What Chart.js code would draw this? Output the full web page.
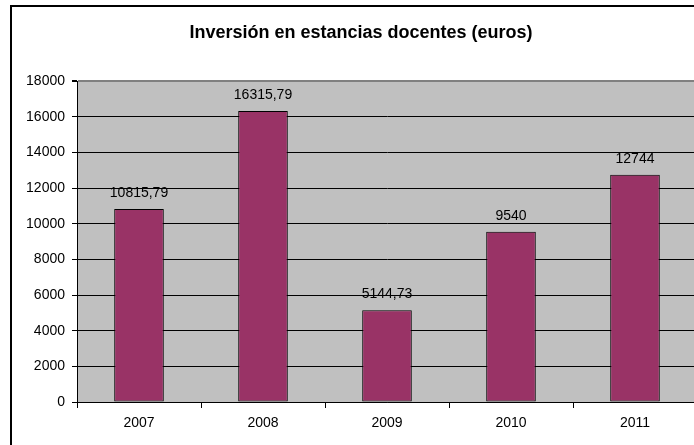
<!DOCTYPE html>
<html>
<head>
<meta charset="utf-8">
<script src="https://cdn.jsdelivr.net/npm/chart.js@4"></script>
<style>
html,body{margin:0;padding:0;background:#fff;overflow:hidden;width:694px;height:445px;}
#frame{position:absolute;left:10px;top:5px;width:900px;height:900px;border-left:2px solid #000;border-top:2px solid #000;}
#wrap{position:absolute;left:0;top:0;width:720px;height:445px;}
</style>
</head>
<body>
<div id="frame"></div>
<div id="wrap"><canvas id="c" width="720" height="445"></canvas></div>
<script>
const categories = ['2007', '2008', '2009', '2010', '2011'];
const values = [10815.79, 16315.79, 5144.73, 9540, 12744];
const yMin = 0, yMax = 18000, yStep = 2000;
const titleText = 'Inversión en estancias docentes (euros)';

const fmt = v => String(v).replace('.', ',');
const FONT = '"Liberation Sans", Arial, sans-serif';

const plotBg = {
  id: 'plotBg',
  beforeDraw(chart) {
    const {ctx, chartArea: a} = chart;
    ctx.save();
    ctx.fillStyle = '#C0C0C0';
    ctx.fillRect(a.left, a.top, a.right - a.left, a.bottom - a.top);
    ctx.restore();
  }
};
const valueLabels = {
  id: 'valueLabels',
  afterDatasetsDraw(chart) {
    const {ctx} = chart;
    const meta = chart.getDatasetMeta(0);
    ctx.save();
    ctx.font = '14px ' + FONT;
    ctx.fillStyle = '#000';
    ctx.textAlign = 'center';
    ctx.textBaseline = 'middle';
    meta.data.forEach((bar, i) => {
      ctx.fillText(fmt(values[i]), bar.x, bar.y - 16);
    });
    ctx.restore();
  }
};

new Chart(document.getElementById('c'), {
  type: 'bar',
  data: {
    labels: categories,
    datasets: [{
      data: values,
      backgroundColor: '#993366',
      borderColor: '#000',
      borderWidth: 1,
      borderSkipped: false,
      categoryPercentage: 1,
      barPercentage: 0.4
    }]
  },
  options: {
    responsive: false,
    animation: false,
    devicePixelRatio: 1,
    layout: {padding: {left: 25, right: 23, top: 0, bottom: 0}},
    plugins: {
      legend: {display: false},
      tooltip: {enabled: false},
      title: {
        display: true,
        text: titleText,
        color: '#000',
        font: {family: FONT, size: 18, weight: 'bold', lineHeight: 1.2},
        padding: {top: 22, bottom: 37.4}
      }
    },
    scales: {
      x: {
        afterFit(s) { s.height = 43; },
        grid: {offset: true, drawOnChartArea: false, drawTicks: true, tickLength: 6, color: '#000'},
        border: {color: '#000', width: 1},
        ticks: {color: '#000', padding: 7, font: {family: FONT, size: 14}}
      },
      y: {
        min: yMin, max: yMax,
        afterFit(s) { s.width = 52; },
        grid: {
          color: c => (c.tick && c.tick.value === yMax) ? '#808080' : '#000',
          lineWidth: c => (c.tick && c.tick.value === yMax) ? 2 : 1,
          tickColor: '#000',
          tickLength: 5
        },
        border: {color: '#000', width: 1},
        ticks: {
          stepSize: yStep,
          color: '#000',
          padding: 7,
          font: {family: FONT, size: 14},
          callback: v => String(v)
        }
      }
    }
  },
  plugins: [plotBg, valueLabels]
});
</script>
</body>
</html>
